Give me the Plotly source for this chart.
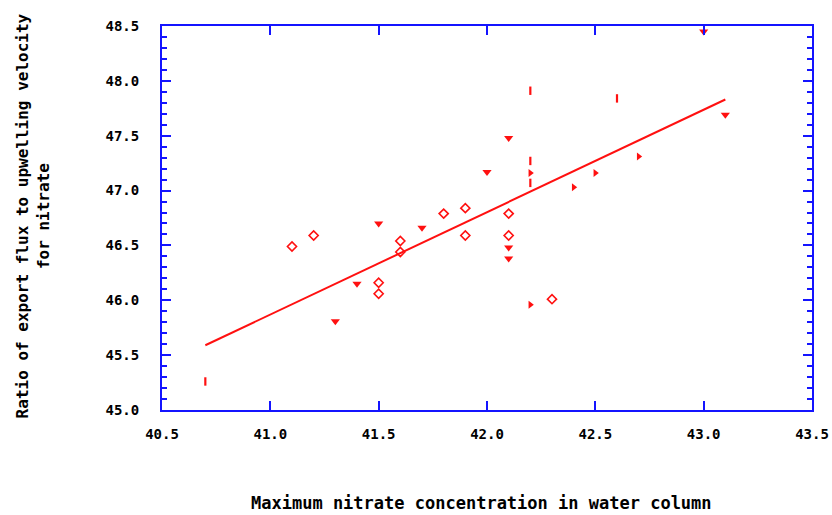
import plotly.graph_objects as go

# Maximum nitrate concentration (x) vs. ratio of export flux to upwelling velocity (y)
diamond_x = [41.1, 41.2, 41.5, 41.5, 41.6, 41.6, 41.8, 41.9, 41.9, 42.1, 42.1, 42.3]
diamond_y = [46.49, 46.59, 46.16, 46.06, 46.54, 46.44, 46.79, 46.84, 46.59, 46.79, 46.59, 46.01]

down_x = [41.3, 41.4, 41.5, 41.7, 42.0, 42.1, 42.1, 42.1, 43.0, 43.1]
down_y = [45.81, 46.15, 46.70, 46.66, 47.17, 47.48, 46.48, 46.38, 48.45, 47.69]

right_x = [42.2, 42.2, 42.4, 42.5, 42.7]
right_y = [45.96, 47.16, 47.03, 47.16, 47.31]

bar_x = [40.7, 42.2, 42.6, 42.2, 42.2]
bar_y = [45.26, 47.91, 47.84, 47.27, 47.07]

# Regression line end points
fit_x = [40.7, 43.1]
fit_y = [45.59, 47.83]

x_range = [40.5, 43.5]
y_range = [45.0, 48.5]

RED = "#ff1010"
BLUE = "#1414ff"
FONT = "DejaVu Sans Mono"

fig = go.Figure()

fig.add_trace(go.Scatter(x=fit_x, y=fit_y, mode="lines",
                         line=dict(color=RED, width=2), showlegend=False))
fig.add_trace(go.Scatter(x=diamond_x, y=diamond_y, mode="markers",
                         marker=dict(symbol="diamond-open", size=7, color=RED,
                                     line=dict(color=RED, width=1.6)),
                         showlegend=False))
fig.add_trace(go.Scatter(x=down_x, y=down_y, mode="markers",
                         marker=dict(symbol="triangle-down", size=8, color=RED,
                                     line=dict(width=0)),
                         showlegend=False))
fig.add_trace(go.Scatter(x=right_x, y=right_y, mode="markers",
                         marker=dict(symbol="triangle-right", size=7, color=RED,
                                     line=dict(width=0)),
                         showlegend=False))
fig.add_trace(go.Scatter(x=bar_x, y=bar_y, mode="markers",
                         marker=dict(symbol="line-ns", size=6, color=RED,
                                     line=dict(color=RED, width=2.2)),
                         showlegend=False))

axis_common = dict(
    showgrid=False, zeroline=False, automargin=False,
    showline=True, linecolor=BLUE, linewidth=2, mirror="allticks",
    ticks="inside", tickcolor=BLUE, tickwidth=2, ticklen=9,
    tickformat=".1f",
    tickfont=dict(family=FONT, size=14, color="black", weight="bold"),
)

fig.update_xaxes(range=x_range, dtick=0.5, tick0=40.5,
                 ticklabelstandoff=10, **axis_common)
fig.update_yaxes(range=y_range, dtick=0.5, tick0=45.0,
                 ticklabelstandoff=18,
                 minor=dict(dtick=0.1, ticks="inside", ticklen=5,
                            tickwidth=2, tickcolor=BLUE, showgrid=False),
                 **axis_common)

fig.update_layout(
    width=832, height=515,
    margin=dict(l=162, r=20, t=26, b=105),
    plot_bgcolor="white", paper_bgcolor="white",
    annotations=[
        dict(text="Maximum nitrate concentration in water column",
             xref="paper", yref="paper", x=0.491, y=-0.242,
             xanchor="center", yanchor="middle", showarrow=False,
             font=dict(family=FONT, size=17, color="black", weight="bold")),
        dict(text="Ratio of export flux to upwelling velocity<br>for nitrate",
             xref="paper", yref="paper", x=-0.198, y=0.505,
             xanchor="center", yanchor="middle", showarrow=False,
             textangle=-90,
             font=dict(family=FONT, size=16, color="black", weight="bold")),
    ],
)

fig.write_html("out.html")
